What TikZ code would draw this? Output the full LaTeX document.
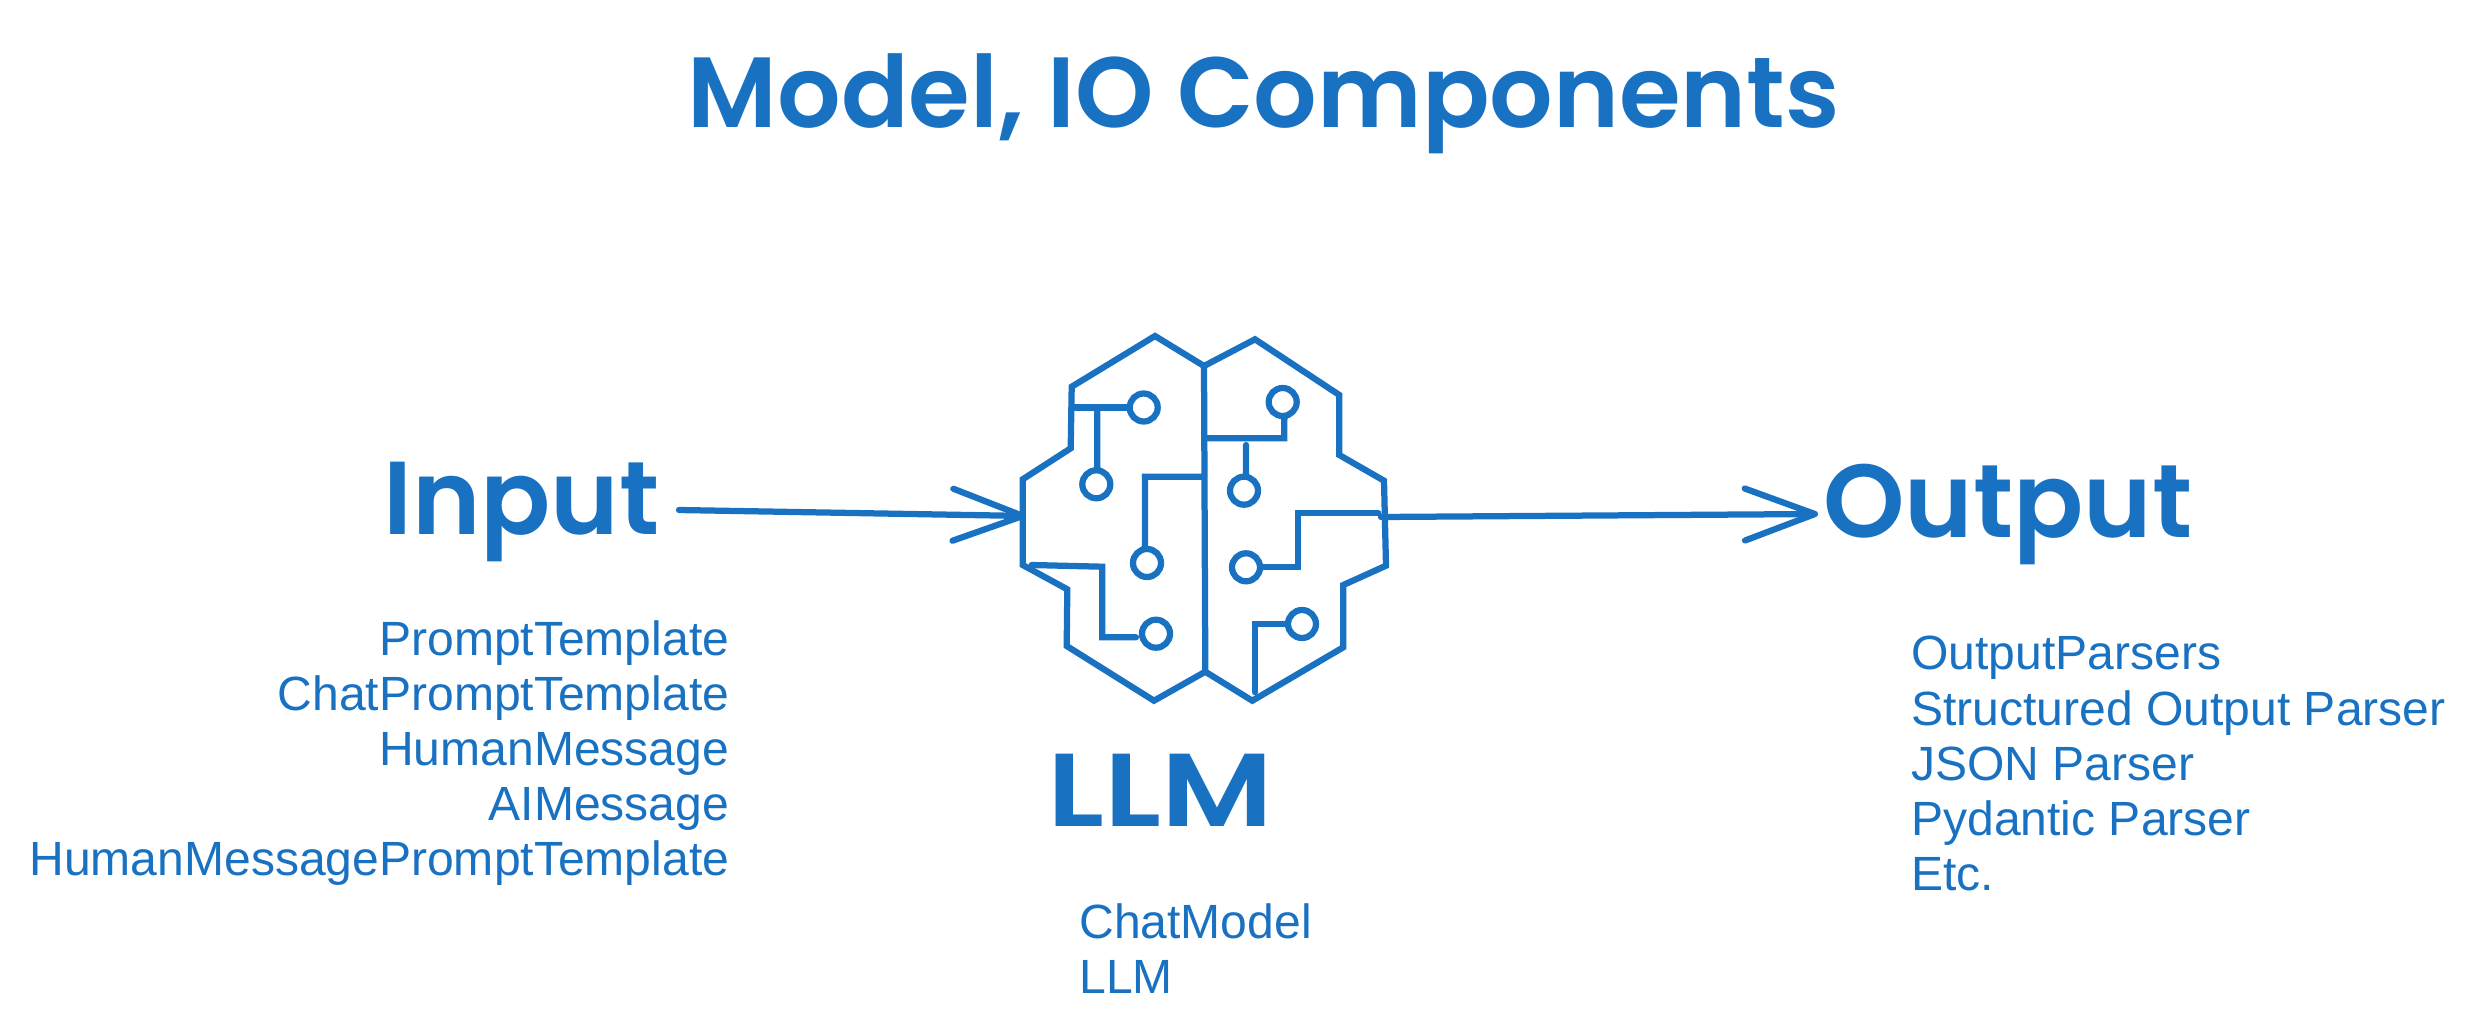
\documentclass[tikz,border=0pt]{standalone}
\usepackage{fontspec}
\usepackage{xcolor}
\usetikzlibrary{arrows.meta,positioning}
\setmainfont{Liberation Sans}
\newfontfamily\handfont{Poppins SemiBold}
\definecolor{sketchblue}{HTML}{1971C2}

\begin{document}
\begin{tikzpicture}[x = 0.02cm, y = -0.02cm]
	\tikzstyle{every node} = [inner sep = 0, text = sketchblue]
	\tikzstyle{hand} = [font = \handfont\fontsize{59}{66}\selectfont]
	\tikzstyle{list} = [font = \fontsize{27.35}{31.4}\selectfont]
	\tikzstyle{pad} = [circle, draw = sketchblue, line width = 0.125cm, minimum size = 0.56cm]
	\tikzstyle{wire} = [draw = sketchblue, line width = 0.125cm, line cap = round]
	\tikzstyle{flow} = [wire, -{Straight Barb[length = 1.4cm, width = 1.04cm, round]}]
	\useasboundingbox (0, 0) rectangle (2475, 1034);

\node[hand, font = \handfont\fontsize{56.8}{66}\selectfont] (title) at (1264, 104) {Model, IO Components};
\node[hand, anchor = east] (input) at (660, 512) {Input};
\node[hand, anchor = west] (output) at (1823, 514) {Output};
\node[hand, anchor = west, xscale = 1.2] (brainname) at (1047, 790) {LLM};
\node[list, anchor = north east, align = right] (inputlist) at (729.5, 620) {PromptTemplate\\ChatPromptTemplate\\HumanMessage\\AIMessage\\HumanMessagePromptTemplate};
\node[list, anchor = north west, align = left] (outputlist) at (1911, 636) {OutputParsers\\Structured Output Parser\\JSON Parser\\Pydantic Parser\\Etc.};
\node[list, anchor = north west, align = left] (brainlist) at (1079, 903) {ChatModel\\LLM};

\node[pad] (1) at (1143.7, 407.5) {};
\node[pad] (2) at (1096.3, 484.3) {};
\node[pad] (3) at (1147, 563) {};
\node[pad] (4) at (1156, 633.7) {};
\node[pad] (5) at (1282.7, 402) {};
\node[pad] (6) at (1244, 490.7) {};
\node[pad] (7) at (1246, 567.3) {};
\node[pad] (8) at (1302, 624) {};

	\coordinate (inlet) at (1026, 516);
	\coordinate (outlet) at (1381, 517);
	\coordinate (in start) at (679, 510);
	\coordinate (out end) at (1818, 514);
	\coordinate (w1) at (1071.7, 407.5);
	\coordinate (w2) at (1097.3, 407.5);
	\coordinate (w3) at (1204, 476.7);
	\coordinate (w4) at (1031.7, 565);
	\coordinate (w5) at (1136, 637.3);
	\coordinate (w6) at (1204.5, 438.3);
	\coordinate (w7) at (1246, 445);
	\coordinate (w8) at (1378.3, 513.3);
	\coordinate (w9) at (1255, 692.3);

	\path[wire] (1204, 366) -- (1155, 336) -- (1071.7, 386.7) -- (1070.7, 448.3) -- (1022.7, 479.3) -- (1022.7, 565) -- (1067.3, 589.3) -- (1066.7, 646) -- (1154, 700.7) -- (1205.3, 671.7);
	\path[wire] (1204, 366) -- (1255, 339.3) -- (1339.3, 395) -- (1339.3, 455) -- (1384, 480.7) -- (1386, 565.7) -- (1343.3, 585) -- (1343.3, 647.3) -- (1252.3, 700.7) -- (1205.3, 671.7);
	\path[wire] (1204, 366) -- (1205.3, 671.7);

	\path[wire] (w1) -- (1);
	\path[wire] (w2) -- (1097.3, 470) -- (2);
	\path[wire] (w3) -- (1145, 476.7) -- (1145, 549) -- (3);
	\path[wire] (w4) -- (1102.3, 566.7) -- (1102.3, 637.3) -- (w5);
	\path[wire] (w6) -- (1284.3, 438.3) -- (1284.3, 416) -- (5);
	\path[wire] (w7) -- (1246, 476) -- (6);
	\path[wire] (w8) -- (1298, 513.3) -- (1298, 567.3) -- (7);
	\path[wire] (w9) -- (1255, 624) -- (8);

	\path[flow] (in start) -- (inlet);
	\path[flow] (outlet) -- (out end);
	\end{tikzpicture}
\end{document}
